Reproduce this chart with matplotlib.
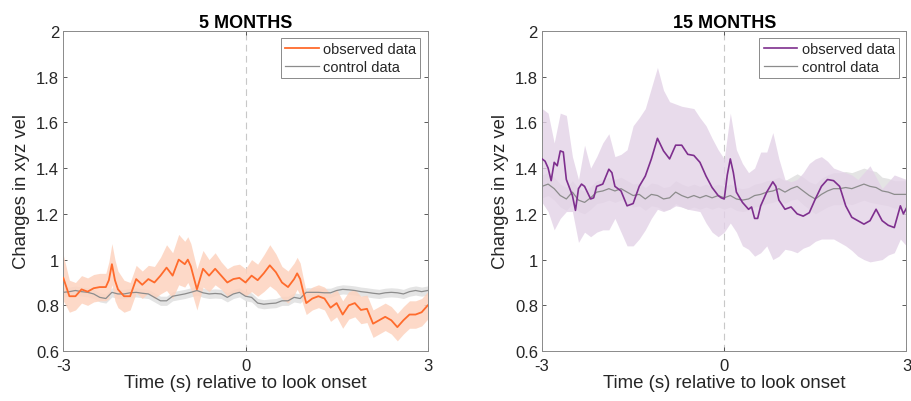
import numpy as np
import matplotlib
matplotlib.use("Agg")
import matplotlib.pyplot as plt

plt.rcParams['font.family'] = ['Liberation Sans', 'DejaVu Sans']

# ---------------- 5 MONTHS ----------------
t5_obs = [-3.0, -2.9, -2.8, -2.7, -2.6, -2.5, -2.4, -2.3, -2.25, -2.2, -2.15, -2.1, -2.0, -1.9, -1.8,
          -1.7, -1.6, -1.5, -1.4, -1.3, -1.2, -1.1, -1.0, -0.95, -0.9, -0.8, -0.7, -0.6, -0.5, -0.4,
          -0.3, -0.2, -0.1, 0.0, 0.1, 0.2, 0.3, 0.4, 0.5, 0.6, 0.7, 0.8, 0.85, 0.9, 0.95, 1.0,
          1.1, 1.2, 1.3, 1.4, 1.5, 1.6, 1.7, 1.8, 1.9, 2.0, 2.1, 2.2, 2.3, 2.4, 2.5, 2.6, 2.7,
          2.8, 2.9, 3.0]
obs5 = [0.92, 0.84, 0.84, 0.87, 0.86, 0.875, 0.88, 0.88, 0.91, 0.98, 0.91, 0.87, 0.84, 0.84, 0.915,
        0.89, 0.915, 0.90, 0.93, 0.965, 0.93, 1.0, 0.98, 1.0, 0.97, 0.87, 0.96, 0.93, 0.96, 0.93,
        0.90, 0.915, 0.92, 0.90, 0.93, 0.91, 0.94, 0.975, 0.945, 0.90, 0.88, 0.915, 0.94, 0.915, 0.86, 0.81,
        0.83, 0.84, 0.83, 0.79, 0.81, 0.76, 0.80, 0.81, 0.78, 0.785, 0.72, 0.735, 0.75, 0.735, 0.705, 0.735, 0.76,
        0.76, 0.77, 0.80]
obs5_hw = [0.10, 0.07, 0.06, 0.06, 0.06, 0.06, 0.06, 0.06, 0.08, 0.09, 0.09, 0.08, 0.07, 0.06, 0.06,
           0.06, 0.06, 0.07, 0.08, 0.10, 0.10, 0.11, 0.10, 0.10, 0.10, 0.09, 0.08, 0.07, 0.07, 0.06,
           0.06, 0.06, 0.06, 0.06, 0.07, 0.07, 0.08, 0.09, 0.08, 0.07, 0.07, 0.07, 0.07, 0.07, 0.06, 0.05,
           0.05, 0.05, 0.05, 0.06, 0.06, 0.06, 0.06, 0.06, 0.06, 0.06, 0.06, 0.06, 0.06, 0.06, 0.06, 0.06, 0.06,
           0.06, 0.06, 0.06]

t_ctrl = [-3.0, -2.9, -2.8, -2.7, -2.6, -2.5, -2.4, -2.3, -2.2, -2.1, -2.0, -1.9, -1.8, -1.7, -1.6,
          -1.5, -1.4, -1.3, -1.2, -1.1, -1.0, -0.9, -0.8, -0.7, -0.6, -0.5, -0.4, -0.3, -0.2, -0.1,
          0.0, 0.1, 0.2, 0.3, 0.4, 0.5, 0.6, 0.7, 0.8, 0.9, 1.0, 1.1, 1.2, 1.3, 1.4, 1.5,
          1.6, 1.7, 1.8, 1.9, 2.0, 2.1, 2.2, 2.3, 2.4, 2.5, 2.6, 2.7, 2.8, 2.9, 3.0]
ctrl5 = [0.857, 0.86, 0.865, 0.86, 0.857, 0.85, 0.835, 0.83, 0.857, 0.85, 0.85, 0.855, 0.857, 0.853, 0.85,
         0.835, 0.82, 0.82, 0.84, 0.845, 0.85, 0.857, 0.865, 0.855, 0.85, 0.852, 0.85, 0.835, 0.85, 0.857,
         0.84, 0.835, 0.81, 0.805, 0.808, 0.81, 0.82, 0.82, 0.835, 0.83, 0.857, 0.857, 0.857, 0.855, 0.855, 0.865,
         0.87, 0.868, 0.865, 0.86, 0.857, 0.853, 0.85, 0.855, 0.857, 0.855, 0.85, 0.86, 0.865, 0.86, 0.865]
ctrl5_hw = 0.02

# ---------------- 15 MONTHS ----------------
t15_obs = [-3.0, -2.95, -2.9, -2.85, -2.8, -2.75, -2.7, -2.65, -2.6, -2.5, -2.45, -2.4, -2.35, -2.3, -2.2,
           -2.15, -2.1, -2.0, -1.9, -1.85, -1.8, -1.7, -1.6, -1.5, -1.4, -1.3, -1.2, -1.1, -1.0, -0.9,
           -0.8, -0.7, -0.6, -0.5, -0.4, -0.3, -0.2, -0.1, -0.05, 0.0, 0.05, 0.1, 0.15, 0.2, 0.3,
           0.4, 0.45, 0.5, 0.55, 0.6, 0.7, 0.8, 0.85, 0.9, 1.0, 1.1, 1.2, 1.3, 1.4, 1.5, 1.6,
           1.7, 1.8, 1.9, 2.0, 2.1, 2.2, 2.3, 2.4, 2.5, 2.6, 2.7, 2.8, 2.9, 2.95, 3.0]
obs15 = [1.44, 1.43, 1.40, 1.345, 1.425, 1.41, 1.475, 1.47, 1.35, 1.28, 1.215, 1.31, 1.33, 1.32, 1.265,
         1.27, 1.32, 1.33, 1.395, 1.38, 1.32, 1.30, 1.235, 1.245, 1.32, 1.365, 1.44, 1.53, 1.475, 1.44,
         1.50, 1.50, 1.46, 1.455, 1.425, 1.365, 1.315, 1.28, 1.27, 1.265, 1.37, 1.44, 1.38, 1.295, 1.25,
         1.22, 1.23, 1.18, 1.18, 1.235, 1.295, 1.34, 1.32, 1.26, 1.22, 1.23, 1.20, 1.19, 1.205, 1.265, 1.32,
         1.35, 1.345, 1.32, 1.235, 1.185, 1.17, 1.155, 1.17, 1.22, 1.17, 1.15, 1.14, 1.235, 1.20, 1.225]

t15_band = [-3.0, -2.9, -2.8, -2.7, -2.6, -2.5, -2.4, -2.3, -2.2, -2.1, -2.0, -1.9, -1.8, -1.7, -1.6,
            -1.5, -1.4, -1.3, -1.2, -1.1, -1.0, -0.9, -0.8, -0.7, -0.6, -0.5, -0.4, -0.3, -0.2, -0.1,
            0.0, 0.1, 0.2, 0.3, 0.4, 0.5, 0.6, 0.7, 0.8, 0.9, 1.0, 1.1, 1.2, 1.3, 1.4, 1.5,
            1.6, 1.7, 1.8, 1.9, 2.0, 2.1, 2.2, 2.3, 2.4, 2.5, 2.6, 2.7, 2.8, 2.9, 3.0]
obs15_hi = [1.66, 1.64, 1.51, 1.64, 1.63, 1.45, 1.35, 1.50, 1.40, 1.45, 1.51, 1.55, 1.45, 1.46, 1.48,
            1.585, 1.62, 1.66, 1.75, 1.84, 1.74, 1.69, 1.68, 1.67, 1.665, 1.66, 1.62, 1.585, 1.53, 1.48,
            1.44, 1.64, 1.48, 1.42, 1.38, 1.40, 1.47, 1.47, 1.555, 1.44, 1.35, 1.34, 1.35, 1.38, 1.42, 1.44,
            1.45, 1.43, 1.40, 1.39, 1.38, 1.37, 1.35, 1.38, 1.41, 1.36, 1.31, 1.34, 1.37, 1.36, 1.35]
obs15_lo = [1.25, 1.21, 1.13, 1.18, 1.21, 1.21, 1.075, 1.12, 1.10, 1.12, 1.13, 1.13, 1.18, 1.12, 1.06,
            1.06, 1.09, 1.13, 1.18, 1.22, 1.21, 1.22, 1.235, 1.23, 1.22, 1.215, 1.21, 1.16, 1.12, 1.10,
            1.12, 1.16, 1.12, 1.06, 1.045, 1.015, 1.03, 1.06, 1.00, 1.015, 1.045, 1.04, 1.03, 1.05, 1.06, 1.08,
            1.09, 1.09, 1.09, 1.075, 1.06, 1.04, 1.015, 1.00, 0.99, 0.995, 1.00, 1.02, 1.03, 1.09, 1.06]

ctrl15 = [1.32, 1.33, 1.31, 1.28, 1.265, 1.295, 1.26, 1.25, 1.27, 1.295, 1.30, 1.31, 1.30, 1.31, 1.295,
          1.28, 1.285, 1.265, 1.285, 1.28, 1.265, 1.27, 1.295, 1.28, 1.27, 1.28, 1.27, 1.28, 1.27, 1.28,
          1.27, 1.28, 1.265, 1.26, 1.265, 1.28, 1.285, 1.295, 1.30, 1.31, 1.295, 1.31, 1.32, 1.30, 1.28, 1.265,
          1.285, 1.30, 1.31, 1.31, 1.315, 1.31, 1.32, 1.33, 1.32, 1.315, 1.30, 1.295, 1.285, 1.285, 1.285]
ctrl15_hw = [0.05, 0.05, 0.05, 0.05, 0.05, 0.05, 0.05, 0.05, 0.05, 0.05, 0.05, 0.05, 0.05, 0.05, 0.05,
             0.05, 0.05, 0.05, 0.05, 0.05, 0.05, 0.05, 0.05, 0.05, 0.05, 0.05, 0.05, 0.05, 0.05, 0.05,
             0.05, 0.05, 0.05, 0.05, 0.05, 0.05, 0.05, 0.05, 0.05, 0.05, 0.05, 0.05, 0.055, 0.06, 0.06, 0.065,
             0.07, 0.07, 0.07, 0.07, 0.07, 0.07, 0.07, 0.07, 0.07, 0.07, 0.06, 0.06, 0.06, 0.06, 0.06]

titles = ['5 MONTHS', '15 MONTHS']
xticks = [-3, 0, 3]
yticks = [0.6, 0.8, 1.0, 1.2, 1.4, 1.6, 1.8, 2.0]
ytick_labels = ['0.6', '0.8', '1', '1.2', '1.4', '1.6', '1.8', '2']
xlabel = 'Time (s) relative to look onset'
ylabel = 'Changes in xyz vel'
legend_labels = ['observed data', 'control data']

ORANGE = '#FF6B2C'
ORANGE_FILL = '#FDD3BF'
PURPLE = '#7E2F8E'
PURPLE_FILL = '#E3D2E7'
GRAY = '#8C8C8C'
GRAY_FILL = '#E4E4E4'
AXC = '#262626'

fig = plt.figure(figsize=(9.11, 4.02), dpi=100)
ax1 = fig.add_axes([0.0695, 0.124, 0.4, 0.797])
ax2 = fig.add_axes([0.595, 0.124, 0.4, 0.797])


def style(ax, title):
    ax.set_xlim(-3, 3)
    ax.set_ylim(0.6, 2.0)
    ax.set_xticks(xticks)
    ax.set_xticklabels([str(v) for v in xticks])
    ax.set_yticks(yticks)
    ax.set_yticklabels(ytick_labels)
    ax.tick_params(direction='in', length=3, width=0.6, colors='#404040', labelcolor=AXC,
                   labelsize=12, top=True, right=True)
    ax.tick_params(axis='x', pad=5)
    ax.tick_params(axis='y', pad=3)
    for s in ax.spines.values():
        s.set_color('#8a8a8a')
        s.set_linewidth(0.7)
    ax.axvline(0, color='#c8c8c8', lw=0.8, ls=(0, (6, 4)), zorder=0.5)
    ax.set_title(title, fontsize=13, fontweight='bold', pad=3, color='black')
    ax.set_xlabel(xlabel, fontsize=13.4, color=AXC, labelpad=1)
    ax.set_ylabel(ylabel, fontsize=13.3, color=AXC, labelpad=4)


# Left panel
c5 = np.array(ctrl5)
ax1.fill_between(t_ctrl, c5 - ctrl5_hw, c5 + ctrl5_hw, color=GRAY_FILL, lw=0, zorder=1)
o5 = np.array(obs5)
h5 = np.array(obs5_hw)
ax1.fill_between(t5_obs, o5 - h5, o5 + h5, color=ORANGE_FILL, lw=0, alpha=0.85, zorder=2)
ax1.plot(t_ctrl, ctrl5, color=GRAY, lw=0.9, zorder=3, label=legend_labels[1])
ax1.plot(t5_obs, obs5, color=ORANGE, lw=1.3, zorder=4, label=legend_labels[0])
style(ax1, titles[0])

# Right panel
c15 = np.array(ctrl15)
ch15 = np.array(ctrl15_hw)
ax2.fill_between(t15_band, c15 - ch15, c15 + ch15, color=GRAY_FILL, lw=0, zorder=1)
ax2.fill_between(t15_band, obs15_lo, obs15_hi, color=PURPLE_FILL, lw=0, alpha=0.8, zorder=2)
ax2.plot(t_ctrl, ctrl15, color=GRAY, lw=0.9, zorder=3, label=legend_labels[1])
ax2.plot(t15_obs, obs15, color=PURPLE, lw=1.2, zorder=4, label=legend_labels[0])
style(ax2, titles[1])

for ax in (ax1, ax2):
    h, l = ax.get_legend_handles_labels()
    leg = ax.legend([h[1], h[0]], [l[1], l[0]], loc='upper right', fontsize=10.5,
                    frameon=True, fancybox=False, edgecolor='#8a8a8a', framealpha=1,
                    handlelength=2.3, handletextpad=0.3, borderpad=0.3, labelspacing=0.25,
                    borderaxespad=0.5)
    leg.get_frame().set_linewidth(0.7)
    for t in leg.get_texts():
        t.set_color(AXC)

fig.savefig('out.png', dpi=100)
